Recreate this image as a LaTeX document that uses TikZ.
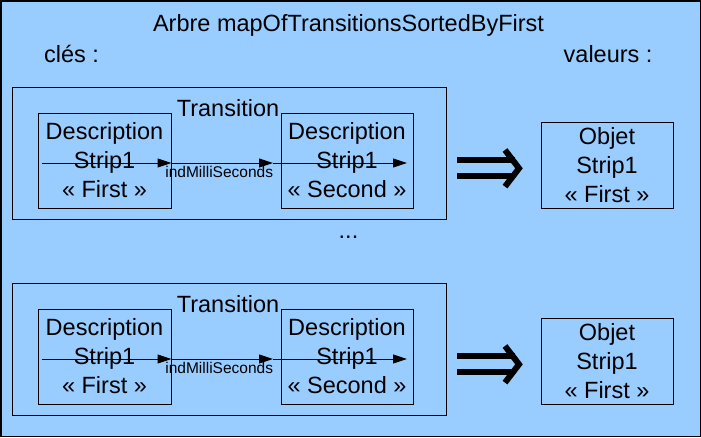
\documentclass[tikz,border=0pt]{standalone}
\usepackage{fontspec}
\setmainfont{Liberation Sans}
\usetikzlibrary{arrows.meta}

\begin{document}
\begin{tikzpicture}[x=1pt,y=-1pt,
        texte/.style={inner sep=0pt,font=\fontsize{23.5}{29}\selectfont},
        boite/.style={texte,draw,line width=1pt,align=center},
        petit/.style={inner sep=0pt,font=\fontsize{15.5}{18}\selectfont},
        fleche/.style={line width=1pt,-{Triangle[length=14pt,width=9pt]}},
        implique/.style={line width=6pt,line join=miter}]
        %couleurs
        \definecolor{fond}{HTML}{99CCFF}

        % Fond et cadre
        \useasboundingbox (0,0) rectangle (701,437);
        \draw[line width=1.5pt,fill=fond] (0.75,0.75) rectangle (700.25,436.25);

        % Titres
        \node[texte,anchor=base] (titre) at (348.5,31.7) {Arbre mapOfTransitionsSortedByFirst};
        \node[texte,anchor=base west] (cles) at (44,62) {clés :};
        \node[texte,anchor=base west] (valeurs) at (563.5,62) {valeurs :};
        \node[texte,anchor=base] (points) at (348.5,238.5) {...};

        % Deux entrees de l'arbre
        \foreach \i/\dy in {1/0,2/196}
        {
            \node[boite,minimum width=434,minimum height=132] (trans\i) at (229,153+\dy) {};
            \node[texte,anchor=base] (nom\i) at (228,116.7+\dy) {Transition};
            \node[boite,minimum width=133,minimum height=95] (desc\i a) at (104.5,160.5+\dy)
                {Description\\Strip1\\« First »};
            \node[boite,minimum width=132,minimum height=95] (desc\i b) at (347,160.5+\dy)
                {Description\\Strip1\\« Second »};
            \node[boite,minimum width=132,minimum height=86] (objet\i) at (607,165+\dy)
                {Objet\\Strip1\\« First »};

            % fleche indMilliSeconds
            \coordinate (dep\i) at (41.5,163+\dy);
            \coordinate (mil\i) at (273,163+\dy);
            \coordinate (fin\i) at (407,163+\dy);
            \draw[fleche] (dep\i) -- (desc\i a.east |- dep\i);
            \draw[fleche] (desc\i a.east |- dep\i) -- (mil\i);
            \draw[fleche] (mil\i) -- (fin\i);
            \node[petit,anchor=base] (ind\i) at (219.2,177.3+\dy) {indMilliSeconds};

            % double fleche
            \draw[implique] (457,160.3+\dy) -- (515,160.3+\dy) (457,176.3+\dy) -- (515,176.3+\dy);
            \draw[implique] (505,150+\dy) -- (519,168.3+\dy) -- (505,186.6+\dy);
        }
    \end{tikzpicture}
\end{document}
